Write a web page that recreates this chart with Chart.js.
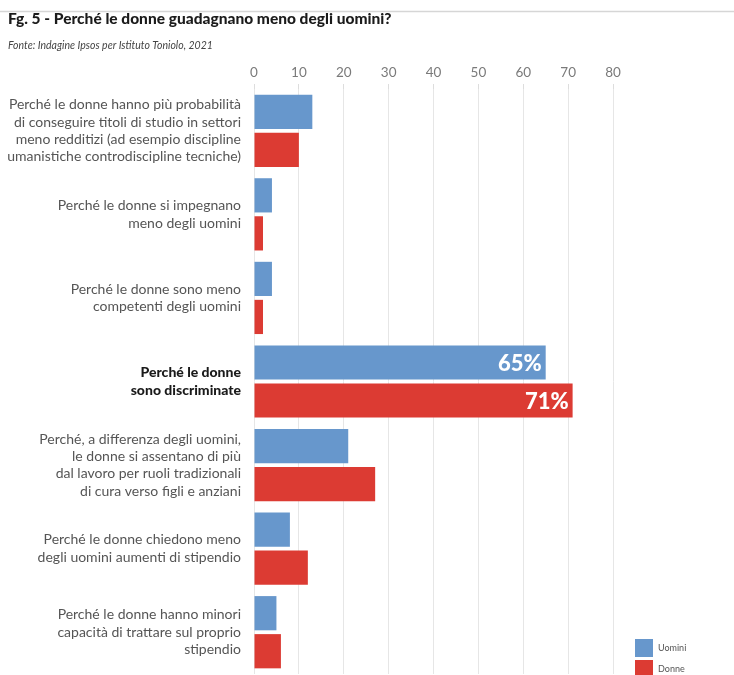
<!DOCTYPE html>
<html lang="it">
<head>
<meta charset="utf-8">
<title>Perché le donne guadagnano meno degli uomini?</title>
<script src="https://cdn.jsdelivr.net/npm/chart.js@4/dist/chart.umd.min.js"></script>
<style>
  html, body { margin: 0; padding: 0; background: #ffffff; }
  #wrap { position: relative; width: 734px; height: 675px; }
</style>
</head>
<body>
<div id="wrap"><canvas id="chart" width="734" height="675"></canvas></div>
<script>
// Motivazioni (una riga di testo per elemento)
const categories = [
  ["Perché le donne hanno più probabilità", "di conseguire titoli di studio in settori", "meno redditizi (ad esempio discipline", "umanistiche controdiscipline tecniche)"],
  ["Perché le donne si impegnano", "meno degli uomini"],
  ["Perché le donne sono meno", "competenti degli uomini"],
  ["Perché le donne", "sono discriminate"],
  ["Perché, a differenza degli uomini,", "le donne si assentano di più", "dal lavoro per ruoli tradizionali", "di cura verso figli e anziani"],
  ["Perché le donne chiedono meno", "degli uomini aumenti di stipendio"],
  ["Perché le donne hanno minori", "capacità di trattare sul proprio", "stipendio"]
];
const seriesNames = ["Uomini", "Donne"];
const uomini = [13, 4, 4, 65, 21, 8, 5];
const donne = [10, 2, 2, 71, 27, 12, 6];
const xTicks = [0, 10, 20, 30, 40, 50, 60, 70, 80];
const highlightIndex = 3;

const BLUE = "#6797cc";
const RED = "#dc3b33";
const FONT = "Lato, 'Open Sans', sans-serif";

// Titolo, fonte e riga superiore
const headerPlugin = {
  id: "header",
  beforeDraw(chart) {
    const ctx = chart.ctx;
    ctx.save();
    ctx.fillStyle = "#ffffff";
    ctx.fillRect(0, 0, chart.width, chart.height);
    ctx.strokeStyle = "#d6d6d6";
    ctx.lineWidth = 1.5;
    ctx.beginPath();
    ctx.moveTo(0, 11.5);
    ctx.lineTo(chart.width, 11.5);
    ctx.stroke();
    ctx.fillStyle = "#1b1b1b";
    ctx.textAlign = "left";
    ctx.textBaseline = "middle";
    ctx.font = "900 15.5px " + FONT;
    ctx.fillText("Fg. 5 - Perché le donne guadagnano meno degli uomini?", 8, 19);
    ctx.fillStyle = "#444444";
    ctx.font = "italic 10.5px " + FONT;
    ctx.fillText("Fonte: Indagine Ipsos per Istituto Toniolo, 2021", 8, 46);
    ctx.restore();
  }
};

// Etichette percentuali dentro le barre evidenziate
const valueLabelPlugin = {
  id: "valueLabels",
  afterDatasetsDraw(chart) {
    const ctx = chart.ctx;
    ctx.save();
    ctx.fillStyle = "#ffffff";
    ctx.font = "900 22px " + FONT;
    ctx.textAlign = "right";
    ctx.textBaseline = "middle";
    chart.data.datasets.forEach((ds, di) => {
      const bar = chart.getDatasetMeta(di).data[highlightIndex];
      ctx.fillText(ds.data[highlightIndex] + "%", bar.x - 4, bar.y + 1);
    });
    ctx.restore();
  }
};

// Legenda in basso a destra
const legendPlugin = {
  id: "cornerLegend",
  afterDraw(chart) {
    const ctx = chart.ctx;
    ctx.save();
    ctx.font = "9px " + FONT;
    ctx.textAlign = "left";
    ctx.textBaseline = "middle";
    chart.data.datasets.forEach((ds, i) => {
      const y = 639 + i * 21;
      ctx.fillStyle = ds.backgroundColor;
      ctx.fillRect(635, y, 18, 18);
      ctx.fillStyle = "#555555";
      ctx.fillText(ds.label, 658, y + 9);
    });
    ctx.restore();
  }
};

new Chart(document.getElementById("chart"), {
  type: "bar",
  data: {
    labels: categories,
    datasets: [
      { label: seriesNames[0], data: uomini, backgroundColor: BLUE },
      { label: seriesNames[1], data: donne, backgroundColor: RED }
    ]
  },
  options: {
    indexAxis: "y",
    responsive: false,
    animation: false,
    categoryPercentage: 0.91,
    barPercentage: 0.9,
    layout: { padding: { left: 0, right: 121, top: 55, bottom: 1 } },
    plugins: {
      legend: { display: false },
      tooltip: { enabled: false }
    },
    scales: {
      x: {
        position: "top",
        min: 0,
        max: 80,
        afterFit(scale) {
          scale.height = 34;
          scale.paddingLeft = 0;
          scale.paddingRight = 0;
        },
        afterBuildTicks(scale) { scale.ticks = xTicks.map(v => ({ value: v })); },
        grid: { color: "#e6e6e6", lineWidth: 1, drawTicks: true, tickLength: 5, tickColor: "#dddddd" },
        border: { display: false },
        ticks: {
          padding: 3,
          color: "#7a7a7a",
          font: { family: FONT, size: 13.5 }
        }
      },
      y: {
        afterFit(scale) {
          scale.width = 254;
          scale.paddingTop = 0;
          scale.paddingBottom = 0;
        },
        grid: { display: false, drawTicks: false },
        border: { display: false },
        ticks: {
          padding: 13,
          color: ctx => ctx.index === highlightIndex ? "#1a1a1a" : "#555555",
          font: ctx => ctx.index === highlightIndex
            ? { family: FONT, size: 14, weight: "900", lineHeight: 1.24 }
            : { family: FONT, size: 14, lineHeight: 1.24 }
        }
      }
    }
  },
  plugins: [headerPlugin, valueLabelPlugin, legendPlugin]
});
</script>
</body>
</html>
